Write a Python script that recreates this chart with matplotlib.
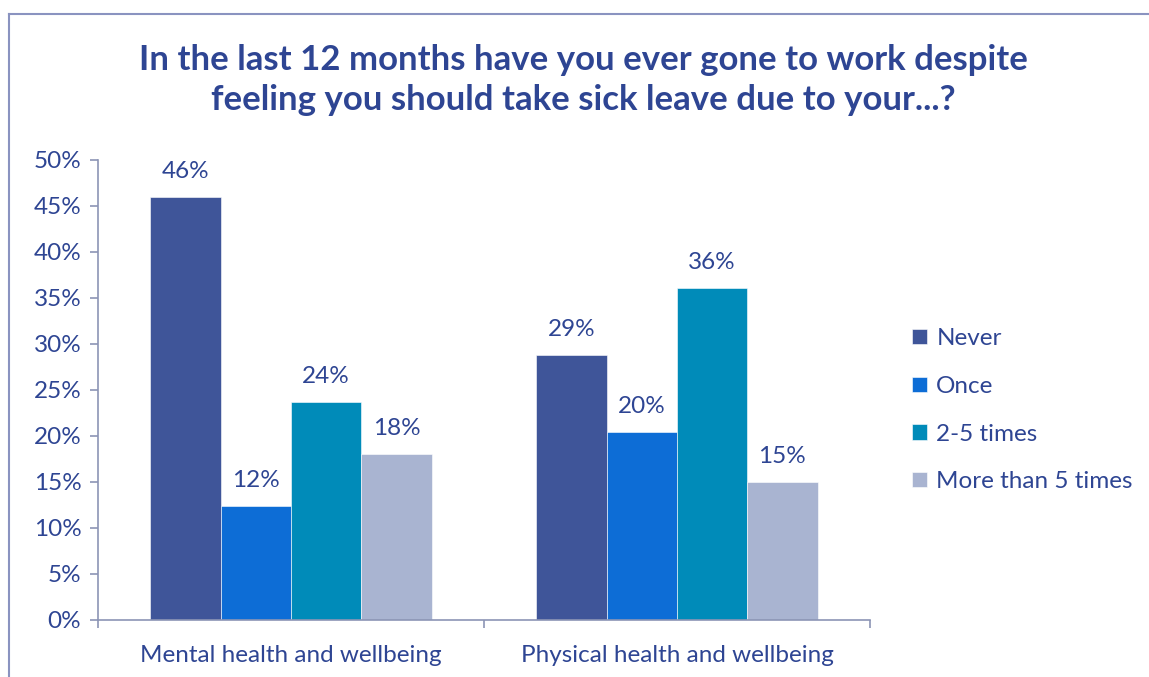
import numpy as np
import matplotlib.pyplot as plt
from matplotlib.lines import Line2D
from matplotlib.ticker import PercentFormatter

plt.rcParams["font.family"] = ["Lato", "DejaVu Sans"]

# Survey responses (share of respondents)
categories = ["Mental health and wellbeing", "Physical health and wellbeing"]
answers = ["Never", "Once", "2-5 times", "More than 5 times"]
never = [0.46, 0.288]
once = [0.124, 0.204]
two_to_five = [0.237, 0.361]
more_than_five = [0.180, 0.150]
series = [never, once, two_to_five, more_than_five]
colors = ["#3F5599", "#0D6DD6", "#008BB9", "#A9B4D1"]

text_color = "#2E4593"
axis_color = "#8C95B5"
fs = 17.5

fig = plt.figure(figsize=(11.49, 6.77), dpi=100)
ax = fig.add_axes([98 / 1149, 57 / 677, 772 / 1149, 460 / 677])

x = np.arange(len(categories))
width = 0.182
for i, (vals, col, name) in enumerate(zip(series, colors, answers)):
    pos = x + (i - 1.5) * width
    bars = ax.bar(pos, vals, width=width, color=col, label=name,
                  edgecolor="white", linewidth=0.4)
    for b, v in zip(bars, vals):
        ax.annotate(f"{v * 100:.0f}%", (b.get_x() + b.get_width() / 2, v),
                    xytext=(0, 11), textcoords="offset points",
                    ha="center", va="bottom", fontsize=fs, color=text_color)

ax.set_xlim(-0.5, 1.5)
ax.set_ylim(0, 0.5)
ax.set_yticks(np.arange(0, 0.51, 0.05))
ax.yaxis.set_major_formatter(PercentFormatter(1.0, decimals=0))
ax.set_xticks(x)
ax.set_xticklabels(categories)
ax.set_xticks([-0.5, 0.5, 1.5], minor=True)
ax.tick_params(axis="x", which="major", length=0, pad=18,
               labelsize=fs, labelcolor=text_color)
ax.tick_params(axis="x", which="minor", length=6, color=axis_color, width=1.2)
ax.tick_params(axis="y", length=6, color=axis_color, width=1.2,
               labelsize=fs, labelcolor=text_color, pad=6)
for side in ["top", "right"]:
    ax.spines[side].set_visible(False)
for side in ["left", "bottom"]:
    ax.spines[side].set_color(axis_color)
    ax.spines[side].set_linewidth(1.2)

fig.suptitle("In the last 12 months have you ever gone to work despite\n"
             "feeling you should take sick leave due to your...?",
             x=0.508, y=0.935, fontsize=25, fontweight="bold",
             color=text_color, linespacing=1.3)

leg = ax.legend(loc="center left", bbox_to_anchor=(1.026, 0.456),
                frameon=False, fontsize=fs, labelspacing=1.1,
                handlelength=0.6, handleheight=0.6, handletextpad=0.4)
for t in leg.get_texts():
    t.set_color(text_color)

# Outer chart frame
frame_color = "#8A93C0"
fig.add_artist(Line2D([9 / 1149, 9 / 1149], [0, 1 - 14 / 677],
                      transform=fig.transFigure, color=frame_color, lw=1.5))
fig.add_artist(Line2D([9 / 1149, 1], [1 - 14 / 677, 1 - 14 / 677],
                      transform=fig.transFigure, color=frame_color, lw=1.5))

fig.savefig("out.png", dpi=100)
